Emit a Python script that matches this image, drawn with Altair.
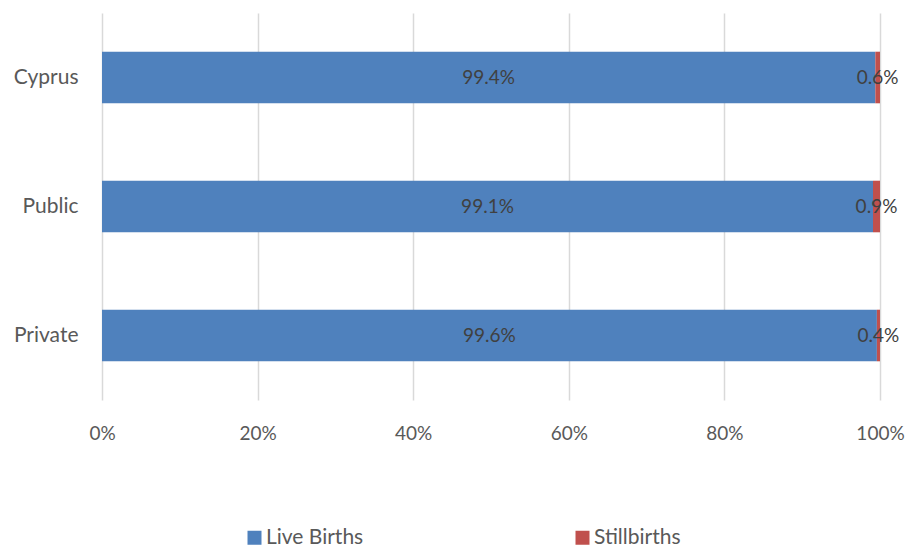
import altair as alt
import pandas as pd

categories = ["Cyprus", "Public", "Private"]
live_births = [99.4, 99.1, 99.6]
stillbirths = [0.6, 0.9, 0.4]
series = ["Live Births", "Stillbirths"]
colors = ["#4F81BD", "#C0504D"]

rows = []
for c, lv, st in zip(categories, live_births, stillbirths):
    rows.append({"cat": c, "series": series[0], "val": lv, "order": 0, "label": f"{lv:.1f}%"})
    rows.append({"cat": c, "series": series[1], "val": st, "order": 1, "label": f"{st:.1f}%"})
df = pd.DataFrame(rows)

FONT = "Lato"

base = alt.Chart(df).transform_stack(
    stack="val", groupby=["cat"], as_=["x0", "x1"], sort=[alt.SortField("order")]
).transform_calculate(
    x0f="datum.x0/100", x1f="datum.x1/100", mid="(datum.x0+datum.x1)/200"
)

yenc = alt.Y("cat:N", sort=categories, title=None,
             scale=alt.Scale(paddingInner=0.6, paddingOuter=0.3),
             axis=alt.Axis(domain=False, ticks=False, grid=False, labelFontSize=21,
                           labelColor="#595959", labelFont=FONT, labelPadding=24))

bars = base.mark_bar().encode(
    x=alt.X("x0f:Q", title=None, scale=alt.Scale(domain=[0, 1], nice=False),
            axis=alt.Axis(format=".0%", values=[0, 0.2, 0.4, 0.6, 0.8, 1.0], domain=False,
                          ticks=False, grid=True, gridColor="#d9d9d9", gridWidth=1.5,
                          labelFontSize=19, labelColor="#595959", labelFont=FONT,
                          labelPadding=24, labelFlush=False)),
    x2="x1f:Q",
    y=yenc,
    color=alt.Color("series:N", scale=alt.Scale(domain=series, range=colors),
                    legend=alt.Legend(title=None, orient="none", direction="horizontal",
                                      legendX=142, legendY=514, symbolType="square",
                                      symbolSize=196, symbolStrokeWidth=0, labelFontSize=21,
                                      labelColor="#595959", labelFont=FONT, labelOffset=1,
                                      columnPadding=208, padding=0)),
)

texts = base.mark_text(fontSize=19, font=FONT, color="#404040").encode(
    x=alt.X("mid:Q"),
    y=alt.Y("cat:N", sort=categories),
    text="label:N",
)

chart = (bars + texts).properties(
    width=778, height=387,
    autosize=alt.AutoSizeParams(type="none"),
    padding={"left": 94, "top": 5, "right": 27, "bottom": 149},
).configure_view(stroke=None)

chart.save("out.html", embed_options={"renderer": "svg", "actions": False})
